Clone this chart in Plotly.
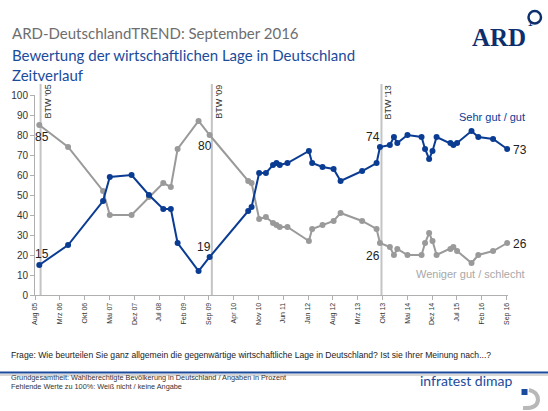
import plotly.graph_objects as go

# survey dates
dates = ["2005-09-07", "2006-05-12", "2007-03-08", "2007-05-05", "2007-11-08",
         "2008-04-05", "2008-08-06", "2008-10-10", "2008-12-07", "2009-06-05",
         "2009-09-08", "2010-08-05", "2010-09-03", "2010-11-07", "2011-01-04",
         "2011-03-06", "2011-04-05", "2011-05-03", "2011-07-08", "2012-01-08",
         "2012-02-05", "2012-05-04", "2012-08-07", "2012-10-06", "2013-04-09",
         "2013-08-11", "2013-09-09", "2013-12-03", "2014-01-07", "2014-02-05",
         "2014-05-03", "2014-09-01", "2014-10-01", "2014-11-05", "2014-12-04",
         "2015-01-08", "2015-05-07", "2015-06-01", "2015-07-03", "2015-11-04",
         "2016-01-01", "2016-05-07", "2016-09-05"]
sehr_gut = [15, 25, 47, 59, 60, 50, 43, 43, 26, 12,
            19, 42, 44, 61, 61, 65, 66, 65, 66, 72,
            66, 64, 63, 57, 62, 66, 74, 75, 79, 76,
            80, 79, 73, 68, 72, 79, 76, 75, 76, 82,
            79, 78, 73]
weniger_gut = [85, 74, 52, 40, 40, 49, 56, 54, 73, 87,
               80, 57, 56, 38, 39, 36, 35, 34, 34, 27,
               33, 35, 37, 41, 37, 33, 26, 24, 20, 23,
               20, 20, 26, 31, 27, 20, 23, 24, 22, 16,
               20, 22, 26]

tick_dates = ["2005-08-01", "2006-03-01", "2006-10-01", "2007-05-01", "2007-12-01",
              "2008-07-01", "2009-02-01", "2009-09-01", "2010-04-01", "2010-11-01",
              "2011-06-01", "2012-01-01", "2012-08-01", "2013-03-01", "2013-10-01",
              "2014-05-01", "2014-12-01", "2015-07-01", "2016-02-01", "2016-09-01"]
tick_labels = ["Aug 05", "Mrz 06", "Okt 06", "Mai 07", "Dez 07", "Jul 08", "Feb 09",
               "Sep 09", "Apr 10", "Nov 10", "Jun 11", "Jan 12", "Aug 12", "Mrz 13",
               "Okt 13", "Mai 14", "Dez 14", "Jul 15", "Feb 16", "Sep 16"]

wahl_dates = ["2005-09-18", "2009-09-27", "2013-09-22"]
wahl_labels = ["BTW '05", "BTW '09", "BTW '13"]

BLUE = "#0a3c93"
GRAY = "#9a9a9a"
W, H = 548, 411
L, R, T, B = 35, 40, 95, 116
PW, PH = W - L - R, H - T - B


def px(x):
    return (x - L) / PW


def py(y):
    return (H - B - y) / PH


fig = go.Figure()
fig.add_trace(go.Scatter(x=dates, y=weniger_gut, mode="lines+markers",
                         line=dict(color=GRAY, width=2),
                         marker=dict(color=GRAY, size=6), cliponaxis=False))
fig.add_trace(go.Scatter(x=dates, y=sehr_gut, mode="lines+markers",
                         line=dict(color=BLUE, width=2),
                         marker=dict(color=BLUE, size=6), cliponaxis=False))

shapes = []
ann = []
for d, lab in zip(wahl_dates, wahl_labels):
    shapes.append(dict(type="line", xref="x", yref="paper", x0=d, x1=d,
                       y0=0, y1=py(84), line=dict(color="#c4c4c4", width=2),
                       layer="below"))
    ann.append(dict(x=d, xref="x", y=py(83), yref="paper", text=lab,
                    textangle=-90, showarrow=False, xanchor="left", yanchor="top",
                    xshift=0, font=dict(size=9, color="#333")))

# value labels at first, election and last points
lbl = [(dates[0], sehr_gut[0], 3, 11), (dates[0], weniger_gut[0], 3, -12),
       (dates[10], weniger_gut[10], -5, -11), (dates[10], sehr_gut[10], -6, 10),
       (dates[26], sehr_gut[26], -7, 10), (dates[26], weniger_gut[26], -7, -13),
       (dates[-1], sehr_gut[-1], 13, -1), (dates[-1], weniger_gut[-1], 13, -1)]
for x, v, dx, dy in lbl:
    ann.append(dict(x=x, y=v, text=str(v), showarrow=False, xshift=dx, yshift=dy,
                    font=dict(size=12, color="#222")))

ann.append(dict(x=px(527), y=py(109), xref="paper", yref="paper",
                text="Sehr gut / gut", showarrow=False, xanchor="right",
                font=dict(size=11, color=BLUE)))
ann.append(dict(x=px(527), y=py(282), xref="paper", yref="paper",
                text="Weniger gut / schlecht", showarrow=False, xanchor="right",
                font=dict(size=11, color="#a8a8a8")))

# header
ann.append(dict(x=px(10), y=py(22), xref="paper", yref="paper",
                text="ARD-DeutschlandTREND: September 2016", showarrow=False,
                xanchor="left", font=dict(family="Lato", size=15, color="#6e6e6e")))
ann.append(dict(x=px(10), y=py(44), xref="paper", yref="paper",
                text="Bewertung der wirtschaftlichen Lage in Deutschland", showarrow=False,
                xanchor="left", font=dict(family="Lato", size=15, color="#1b4b9c")))
ann.append(dict(x=px(10), y=py(64), xref="paper", yref="paper",
                text="Zeitverlauf", showarrow=False,
                xanchor="left", font=dict(family="Lato", size=15, color="#1b4b9c")))
ann.append(dict(x=px(528), y=py(22), xref="paper", yref="paper", text="<b>ARD</b>",
                showarrow=False, xanchor="right",
                font=dict(family="Liberation Serif", size=25, color="#0d2f6e")))
shapes.append(dict(type="circle", xref="paper", yref="paper", x0=px(528.5), x1=px(541),
                   y0=py(23.5), y1=py(11), line=dict(color="#0d2f6e", width=2.5)))
ann.append(dict(x=px(534.8), y=py(17.2), xref="paper", yref="paper", text="<b>1</b>",
                showarrow=False, font=dict(family="Liberation Sans", size=8, color="#0d2f6e")))

# footer
ann.append(dict(x=px(9), y=py(362), xref="paper", yref="paper",
                text="Frage: Wie beurteilen Sie ganz allgemein die gegenwärtige wirtschaftliche "
                     "Lage in Deutschland? Ist sie Ihrer Meinung nach...?",
                showarrow=False, xanchor="left", font=dict(size=8.6, color="#222")))
shapes.append(dict(type="line", xref="paper", yref="paper", x0=px(0), x1=px(548),
                   y0=py(372.5), y1=py(372.5), line=dict(color="#1b4b9c", width=2)))
shapes.append(dict(type="line", xref="paper", yref="paper", x0=px(0), x1=px(548),
                   y0=py(375), y1=py(375), line=dict(color="#c8c8c8", width=1.5)))
ann.append(dict(x=px(9), y=py(384), xref="paper", yref="paper",
                text="Grundgesamtheit: Wahlberechtigte Bevölkerung in Deutschland / Angaben in Prozent",
                showarrow=False, xanchor="left", font=dict(size=7.3, color="#333")))
ann.append(dict(x=px(9), y=py(393), xref="paper", yref="paper",
                text="Fehlende Werte zu 100%: Weiß nicht / keine Angabe",
                showarrow=False, xanchor="left", font=dict(size=7.3, color="#333")))
ann.append(dict(x=px(515), y=py(391), xref="paper", yref="paper", text="infratest dimap",
                showarrow=False, xanchor="right",
                font=dict(family="Lato", size=14, color="#1b4b9c")))
shapes.append(dict(type="rect", xref="paper", yref="paper", x0=px(521.5), x1=px(527.5),
                   y0=py(395), y1=py(389), fillcolor="#1b4b9c", line=dict(width=0)))
shapes.append(dict(type="path", xref="paper", yref="paper",
                   path="M %f,%f Q %f,%f %f,%f Q %f,%f %f,%f" % (
                       px(529), py(390), px(538), py(392), px(538), py(400),
                       px(537), py(409), px(523), py(408)),
                   line=dict(color="#b8b8b8", width=4)))

fig.update_layout(
    width=W, height=H, margin=dict(l=L, r=R, t=T, b=B),
    paper_bgcolor="white", plot_bgcolor="white", showlegend=False,
    font=dict(family="Liberation Sans", color="#333"),
    xaxis=dict(type="date", range=["2005-08-01", "2016-09-12"], automargin=False,
               tickvals=tick_dates, ticktext=tick_labels, tickangle=-90,
               tickfont=dict(size=7, color="#333"), showgrid=False, zeroline=False,
               showline=True, linecolor="#b0b0b0", ticks="outside", ticklen=4,
               tickcolor="#b0b0b0"),
    yaxis=dict(range=[0, 100], dtick=10, tickfont=dict(size=10, color="#333"),
               automargin=False,
               showgrid=False, zeroline=False, showline=True, linecolor="#b0b0b0",
               ticks="outside", ticklen=4, tickcolor="#b0b0b0"),
    shapes=shapes, annotations=ann,
)

fig.write_html("out.html", config={"displayModeBar": False},
               post_script="document.body.style.margin='0';"
                           "document.body.style.overflow='hidden';")
